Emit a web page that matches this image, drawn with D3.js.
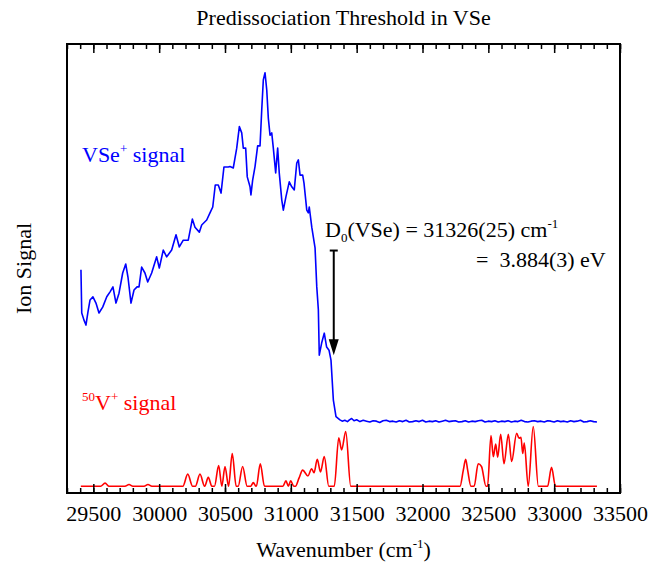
<!DOCTYPE html>
<html>
<head>
<meta charset="utf-8">
<script src="https://cdn.jsdelivr.net/npm/d3@7"></script>
</head>
<body style="margin:0">
<svg id="chart" width="651" height="567"></svg>
<script>
// wavenumber (cm-1) and ion signal (arb. units)
const vseWn = [29406, 29412, 29429, 29444, 29459, 29475, 29497, 29520, 29543, 29571,
  29602, 29627, 29649, 29672, 29695, 29723, 29746, 29763, 29786, 29809,
  29832, 29847, 29867, 29892, 29913, 29943, 29981, 30001, 30031, 30057,
  30095, 30128, 30153, 30183, 30221, 30252, 30272, 30305, 30323, 30361,
  30386, 30407, 30426, 30449, 30470, 30492, 30525, 30538, 30563, 30589,
  30609, 30627, 30639, 30657, 30669, 30690, 30697, 30710, 30728, 30748,
  30766, 30779, 30791, 30804, 30817, 30829, 30842, 30855, 30867, 30885,
  30900, 30912, 30931, 30943, 30963, 30988, 31007, 31026, 31045, 31057,
  31070, 31090, 31100, 31121, 31133, 31140, 31159, 31184, 31197, 31209,
  31216, 31234, 31254, 31272, 31290, 31305, 31323, 31343, 31373, 31390,
  31410, 31430, 31445, 31462, 31480, 31500, 31525, 31550, 31575, 31600,
  31625, 31650, 31675, 31700, 31725, 31750, 31775, 31800, 31825, 31850,
  31875, 31900, 31925, 31950, 31975, 32000, 32025, 32050, 32075, 32100,
  32125, 32150, 32175, 32200, 32225, 32250, 32275, 32300, 32325, 32350,
  32375, 32400, 32425, 32450, 32475, 32500, 32525, 32550, 32575, 32600,
  32625, 32650, 32675, 32700, 32725, 32750, 32775, 32800, 32825, 32850,
  32875, 32900, 32925, 32950, 32975, 33000, 33025, 33050, 33075, 33100,
  33125, 33150, 33175, 33200, 33225, 33250, 33275, 33300, 33325];
const vseSig = [49.7, 40.1, 38.5, 37.4, 40.3, 43.0, 43.7, 42.3, 40.1, 41.4,
  43.7, 44.8, 45.9, 42.3, 44.5, 49.0, 51.0, 48.1, 42.3, 45.2,
  45.9, 45.9, 50.3, 49.0, 47.0, 49.0, 52.6, 50.1, 54.1, 52.6,
  54.1, 57.5, 54.8, 56.3, 56.3, 61.0, 59.2, 58.1, 59.7, 60.8,
  62.4, 63.7, 68.6, 68.6, 66.8, 72.6, 72.6, 72.7, 72.4, 76.8,
  81.6, 80.2, 76.8, 76.8, 70.4, 68.2, 66.4, 69.7, 72.7, 77.3,
  77.3, 85.3, 92.0, 93.6, 89.8, 83.5, 79.7, 80.2, 76.8, 71.3,
  76.8, 71.3, 65.3, 63.0, 66.0, 69.3, 68.2, 67.5, 73.5, 74.2,
  70.8, 70.8, 69.0, 63.0, 62.4, 63.7, 59.2, 54.6, 45.9, 40.8,
  30.7, 33.4, 35.6, 32.5, 31.8, 29.6, 20.7, 17.0, 16.3, 16.0,
  16.2, 15.9, 16.3, 16.6, 16.1, 16.3, 15.9, 16.2, 16.0, 15.8,
  16.1, 16.0, 15.7, 16.1, 16.2, 15.9, 16.0, 15.8, 16.1, 15.9,
  16.2, 15.8, 15.9, 16.1, 15.9, 16.2, 15.8, 16.0, 15.9, 16.1,
  15.8, 16.0, 16.2, 15.9, 16.0, 16.1, 15.8, 15.9, 16.1, 15.8,
  16.0, 15.9, 16.1, 16.2, 15.8, 16.0, 15.9, 16.1, 15.8, 16.0,
  15.9, 16.1, 15.8, 16.0, 15.9, 16.2, 15.9, 15.8, 16.0, 16.1,
  15.9, 16.0, 15.8, 16.1, 16.0, 15.8, 16.1, 15.9, 16.0, 15.8,
  16.1, 15.9, 16.0, 16.2, 15.8, 15.9, 16.1, 15.9, 15.8];

const vWn = [29405, 29555, 29589, 29620, 29740, 29771, 29800, 29885, 29915, 29945,
  30180, 30217, 30254, 30275, 30310, 30345, 30346, 30373, 30400, 30420,
  30452, 30476, 30500, 30527, 30555, 30585, 30600, 30634, 30668, 30695,
  30715, 30735, 30738, 30768, 30800, 30940, 30963, 30981, 30999, 31022,
  31035, 31062, 31090, 31130, 31158, 31176, 31201, 31225, 31254, 31288,
  31330, 31364, 31386, 31417, 31455, 32285, 32310, 32328, 32343, 32368,
  32392, 32423, 32448, 32482, 32494, 32520, 32538, 32556, 32571, 32594,
  32619, 32652, 32677, 32715, 32733, 32748, 32761, 32773, 32803, 32841,
  32880, 32950, 32980, 33010, 33325];
const vSig = [1.5, 1.5, 2.2, 1.5, 1.5, 1.9, 1.5, 1.5, 1.9, 1.5,
  1.5, 4.2, 1.5, 1.5, 4.2, 1.5, 1.5, 3.5, 1.5, 1.5,
  6.1, 1.5, 5.9, 1.5, 8.8, 1.5, 1.5, 5.9, 1.5, 1.5,
  2.3, 1.5, 1.5, 6.5, 1.5, 1.5, 2.7, 1.5, 2.7, 1.5,
  1.5, 3.3, 5.1, 3.8, 5.4, 4.5, 7.5, 4.7, 8.1, 1.5,
  1.5, 12.3, 9.6, 13.7, 1.5, 1.5, 5.1, 7.5, 5.1, 1.5,
  1.5, 6.5, 5.9, 1.5, 1.5, 12.8, 8.1, 10.9, 8.0, 13.1,
  6.5, 13.1, 7.0, 13.3, 12.2, 12.4, 8.8, 11.1, 1.5, 14.8,
  1.5, 1.5, 5.7, 1.5, 1.5];

const majorTicks = [29500, 30000, 30500, 31000, 31500, 32000, 32500, 33000, 33500];
const minorTicks = d3.range(29300, 33501, 100);
const d0Wn = 31326;
const arrowSig = [54.0, 30.7];

const face = 'Liberation Serif';
const width = 651, height = 567;
const margin = { top: 44, right: 31, bottom: 74, left: 67 };

const svg = d3.select('#chart');

const x = d3.scaleLinear()
  .domain([29300, 33500])
  .range([margin.left, width - margin.right]);

const y = d3.scaleLinear()
  .domain([0, 100])
  .range([height - margin.bottom, margin.top]);

const zip = (a, b) => a.map((v, i) => [v, b[i]]);

// red trace first, blue on top
svg.append('path')
  .datum(zip(vWn, vSig))
  .attr('fill', 'none')
  .attr('stroke', '#ff0000')
  .attr('stroke-width', 1.6)
  .attr('d', d3.line().x(d => x(d[0])).y(d => y(d[1])).curve(d3.curveMonotoneX));

svg.append('path')
  .datum(zip(vseWn, vseSig))
  .attr('fill', 'none')
  .attr('stroke', '#0000ff')
  .attr('stroke-width', 1.6)
  .attr('stroke-linejoin', 'round')
  .attr('d', d3.line().x(d => x(d[0])).y(d => y(d[1])));

// strip d3's default axis styling so the serif face is not overridden
function plain(g) {
  g.select('.domain').remove();
  g.attr('font-family', null).attr('font-size', null).attr('fill', null);
  g.selectAll('.tick line').attr('stroke', '#000').attr('stroke-width', 1.5);
  g.selectAll('.tick').attr('class', null);
}

// axes, ticks inward on top and bottom
const bottom = height - margin.bottom;
svg.append('g')
  .attr('transform', `translate(0,${bottom})`)
  .call(d3.axisBottom(x).tickValues(minorTicks).tickSize(-5).tickFormat(''))
  .call(plain);
svg.append('g')
  .attr('transform', `translate(0,${bottom})`)
  .call(d3.axisBottom(x).tickValues(majorTicks).tickSize(-9).tickPadding(12).tickFormat(d3.format('d')))
  .call(plain)
  .call(g => g.selectAll('text')
    .attr('fill', '#000')
    .attr('font-size', 22)
    .style('font-family', face));

svg.append('g')
  .attr('transform', `translate(0,${margin.top})`)
  .call(d3.axisTop(x).tickValues(minorTicks).tickSize(-5).tickFormat(''))
  .call(plain);
svg.append('g')
  .attr('transform', `translate(0,${margin.top})`)
  .call(d3.axisTop(x).tickValues(majorTicks).tickSize(-9).tickFormat(''))
  .call(plain);

svg.append('rect')
  .attr('x', margin.left)
  .attr('y', margin.top)
  .attr('width', width - margin.left - margin.right)
  .attr('height', height - margin.top - margin.bottom)
  .attr('fill', 'none')
  .attr('stroke', '#000')
  .attr('stroke-width', 2);

// arrow at D0
const ax = x(d0Wn);
svg.append('line')
  .attr('x1', ax).attr('x2', ax)
  .attr('y1', y(arrowSig[0])).attr('y2', y(arrowSig[1]) - 14)
  .attr('stroke', '#000').attr('stroke-width', 2);
svg.append('line')
  .attr('x1', ax - 4).attr('x2', ax + 4)
  .attr('y1', y(arrowSig[0])).attr('y2', y(arrowSig[0]))
  .attr('stroke', '#000').attr('stroke-width', 2);
svg.append('path')
  .attr('d', `M${ax - 5},${y(arrowSig[1]) - 16}L${ax + 5},${y(arrowSig[1]) - 16}L${ax},${y(arrowSig[1])}Z`)
  .attr('fill', '#000');

// texts
function label(px, py, size, color) {
  return svg.append('text')
    .attr('x', px).attr('y', py)
    .attr('fill', color || '#000')
    .attr('font-size', size)
    .style('font-family', face);
}

label((margin.left + width - margin.right) / 2, 25, 22)
  .attr('text-anchor', 'middle')
  .text('Predissociation Threshold in VSe');

const xt = label((margin.left + width - margin.right) / 2, 557, 22)
  .attr('text-anchor', 'middle');
xt.append('tspan').text('Wavenumber (cm');
xt.append('tspan').attr('font-size', 13).attr('dy', -9).text('-1');
xt.append('tspan').attr('dy', 9).text(')');

label(0, 0, 22)
  .attr('transform', `translate(31,${(margin.top + bottom) / 2}) rotate(-90)`)
  .attr('text-anchor', 'middle')
  .text('Ion Signal');

const blueLbl = label(82, 162, 22, '#0000ff');
blueLbl.append('tspan').text('VSe');
blueLbl.append('tspan').attr('font-size', 13).attr('dy', -9).text('+');
blueLbl.append('tspan').attr('dy', 9).text(' signal');

const redLbl = label(82, 410, 22, '#ff0000');
redLbl.append('tspan').attr('font-size', 13).attr('dy', -9).text('50');
redLbl.append('tspan').attr('dy', 9).text('V');
redLbl.append('tspan').attr('font-size', 13).attr('dy', -9).text('+');
redLbl.append('tspan').attr('dy', 9).text(' signal');

const d0 = label(325, 237, 22);
d0.append('tspan').text('D');
d0.append('tspan').attr('font-size', 13).attr('dy', 5).text('0');
d0.append('tspan').attr('dy', -5).text('(VSe) = 31326(25) cm');
d0.append('tspan').attr('font-size', 13).attr('dy', -9).text('-1');

label(476, 267, 22)
  .attr('xml:space', 'preserve')
  .text('=  3.884(3) eV');
</script>
</body>
</html>
